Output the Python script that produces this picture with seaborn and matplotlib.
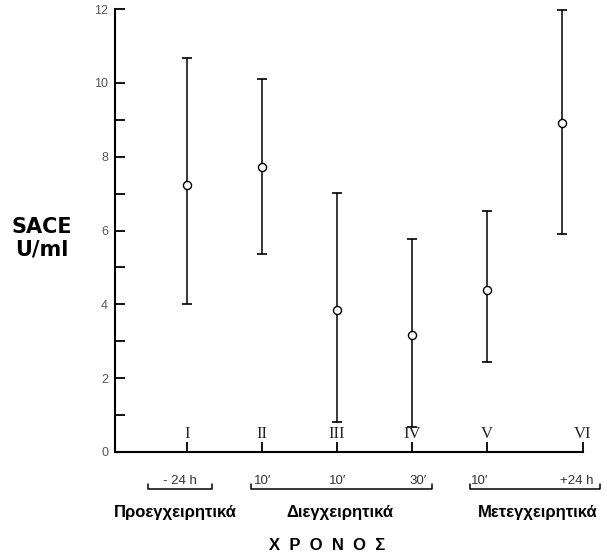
import numpy as np
import matplotlib
matplotlib.use("Agg")
import matplotlib.pyplot as plt
from matplotlib.lines import Line2D
import seaborn as sns
import pandas as pd

# ---- data ----
stages = ["I", "II", "III", "IV", "V", "VI"]
means = [7.24, 7.72, 3.85, 3.17, 4.39, 8.92]
upper = [10.68, 10.11, 7.02, 5.77, 6.53, 11.98]
lower = [4.01, 5.37, 0.81, 0.68, 2.44, 5.91]
time_labels = ["- 24 h", "10\u2032", "10\u2032", "30\u2032", "10\u2032", "+24 h"]
groups = ["Προεγχειρητικά", "Διεγχειρητικά", "Μετεγχειρητικά"]
y_ticks = [0, 2, 4, 6, 8, 10, 12]

sns.set_theme(style="ticks")
plt.rcParams['font.family'] = ['Liberation Sans', 'DejaVu Sans']

W, H = 607, 552
fig = plt.figure(figsize=(W / 100, H / 100), dpi=100)
fx = lambda px: px / W
fy = lambda py: 1 - py / H

ax = fig.add_axes([fx(115), fy(452), fx(583) - fx(115), fy(9) - fy(452)])

x = np.arange(1, len(stages) + 1)
df = pd.DataFrame({"x": x, "mean": means})
m = np.array(means)
yerr = [m - np.array(lower), np.array(upper) - m]
ax.errorbar(x, m, yerr=yerr, fmt="none", ecolor="black", elinewidth=1.1,
            capsize=3.7, capthick=1.2, zorder=2)
sns.scatterplot(data=df, x="x", y="mean", ax=ax, marker="o", s=34,
                facecolor="white", edgecolor="black", linewidth=1.0, zorder=3)

ax.set_xlim(0.04, 6.28)
ax.set_ylim(0, 12)
sns.despine(ax=ax)
for s in ["left", "bottom"]:
    ax.spines[s].set_linewidth(1.5)
    ax.spines[s].set_color("black")

ax.set_yticks(y_ticks)
ax.set_yticklabels([str(t) for t in y_ticks])
ax.set_yticks([1, 3, 5, 7, 9], minor=True)
ax.tick_params(axis="y", which="both", direction="in", length=7, width=1.3,
               labelsize=9, labelcolor="#555555", pad=5, color="black")
tick_pos = [1, 2, 3, 4, 5, 6.28]
ax.set_xticks(tick_pos)
ax.set_xticklabels([])
ax.tick_params(axis="x", direction="in", length=7, width=1.3, color="black")
ax.set_xlabel("")
ax.set_ylabel("")

# roman numerals inside axis
for p, s in zip(tick_pos, stages):
    ax.text(p, 0.5, s, ha="center", va="center", fontsize=12,
            family="Liberation Serif", color="#222222")

# time labels
tl_x = [180, 263, 338, 418, 480, 577]
for px, t in zip(tl_x, time_labels):
    fig.text(fx(px), fy(481), t, ha="center", va="center", fontsize=9.5,
             color="#333333")

# brackets
for a, b in [(148, 212), (251, 432), (470, 600)]:
    fig.add_artist(Line2D([fx(a), fx(a), fx(b), fx(b)],
                          [fy(484), fy(489), fy(489), fy(484)],
                          color="black", lw=1.1))

# group labels
for px, g in zip([175, 340, 538], groups):
    fig.text(fx(px), fy(513), g, ha="center", va="center", fontsize=12,
             fontweight="bold", color="black")

fig.text(fx(327), fy(545), "Χ  Ρ  Ο  Ν  Ο  Σ", ha="center", va="center",
         fontsize=12, fontweight="bold", color="black")

fig.text(fx(42), fy(238), "SACE\nU/ml", ha="center", va="center",
         fontsize=15, fontweight="bold", family=["DejaVu Sans"],
         linespacing=1.15, color="black")

fig.savefig("out.png", dpi=100)
